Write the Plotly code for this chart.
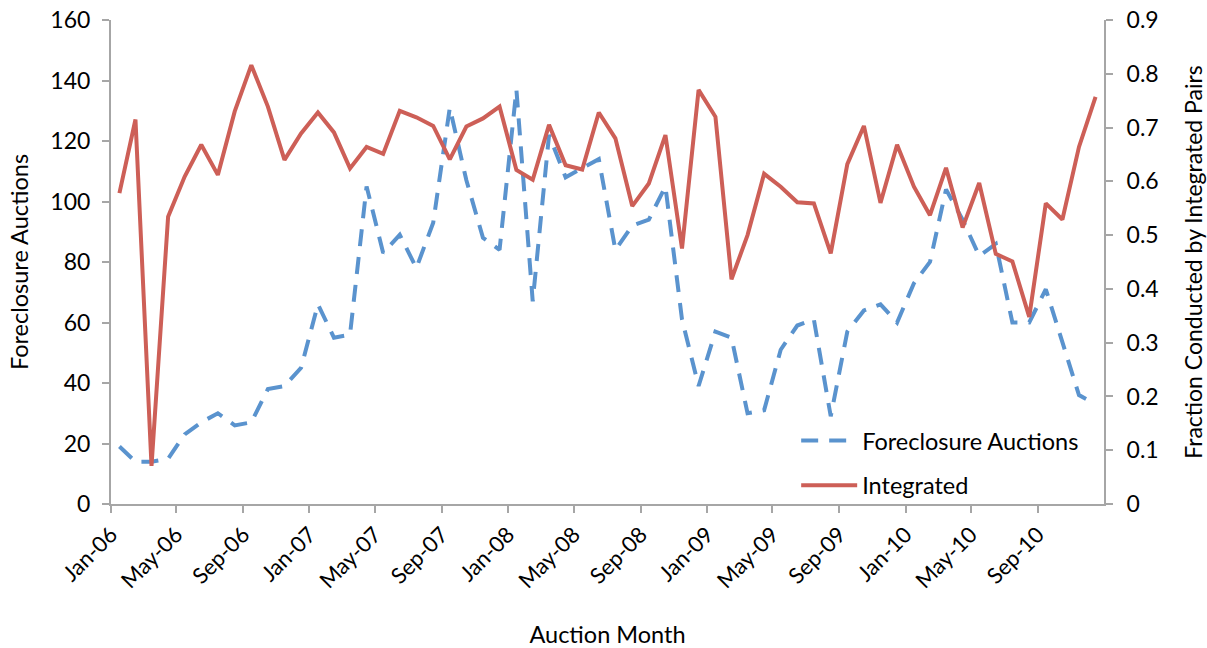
import pandas as pd
import plotly.graph_objects as go

months = pd.date_range("2006-01-01", periods=60, freq="MS")

foreclosure_auctions = [
    19, 14, 14, 15, 23, 27, 30, 26, 27, 38,
    39, 45, 66, 55, 56, 105, 83, 89, 78, 93,
    131, 107, 88, 84, 137, 67, 122, 108, 111, 114,
    84, 92, 94, 105, 61, 39, 57, 55, 30, 31,
    51, 59, 61, 29, 57, 64, 66, 60, 73, 80,
    104, 94, 82, 86, 60, 60, 71, 53, 36, 33,
]

integrated = [
    0.578, 0.715, 0.071, 0.534, 0.609, 0.668, 0.612, 0.730, 0.816, 0.739,
    0.640, 0.689, 0.728, 0.691, 0.624, 0.664, 0.651, 0.731, 0.719, 0.703,
    0.641, 0.702, 0.717, 0.739, 0.621, 0.603, 0.705, 0.630, 0.622, 0.728,
    0.680, 0.554, 0.596, 0.686, 0.475, 0.770, 0.720, 0.418, 0.500, 0.614,
    0.590, 0.561, 0.559, 0.466, 0.632, 0.703, 0.560, 0.668, 0.590, 0.537,
    0.625, 0.514, 0.597, 0.465, 0.451, 0.348, 0.559, 0.529, 0.664, 0.757,
]

tick_dates = pd.date_range("2006-01-01", "2010-09-01", freq="4MS")
tick_labels = [d.strftime("%b-%y") for d in tick_dates]

left_ticks = [0, 20, 40, 60, 80, 100, 120, 140, 160]
right_ticks = [0, 0.1, 0.2, 0.3, 0.4, 0.5, 0.6, 0.7, 0.8, 0.9]
right_labels = ["0", "0.1", "0.2", "0.3", "0.4", "0.5", "0.6", "0.7", "0.8", "0.9"]

BLUE = "#5A93CE"
RED = "#CD5F57"
AXIS = "#A6A6A6"
FONT = "Lato"
FS = 23

fig = go.Figure()
fig.add_trace(go.Scatter(
    x=months, y=foreclosure_auctions, name="Foreclosure Auctions",
    mode="lines", xperiod="M1", xperiodalignment="middle",
    line=dict(color=BLUE, width=4, dash="17px,11px"),
    legendgroup="a",
))
fig.add_trace(go.Scatter(
    x=months, y=integrated, name="Integrated", yaxis="y2",
    mode="lines", xperiod="M1", xperiodalignment="middle",
    line=dict(color=RED, width=4),
    legendgroup="b",
))

fig.update_layout(
    width=1207, height=648,
    margin=dict(l=111, r=103, t=20, b=144),
    paper_bgcolor="white", plot_bgcolor="white",
    font=dict(family=FONT, size=FS, color="#000000"),
    xaxis=dict(
        range=["2006-01-01", "2011-01-01"], automargin=False,
        tickmode="array", tickvals=tick_dates, ticktext=tick_labels,
        tickangle=-45, ticks="outside", ticklen=7, tickwidth=2, tickcolor=AXIS,
        showline=True, linecolor=AXIS, linewidth=2, showgrid=False, zeroline=False,
        title=dict(text="Auction Month", font=dict(size=23.5), standoff=36),
        tickfont=dict(size=22), ticklabeloverflow="allow",
    ),
    yaxis=dict(
        range=[0, 160], tickvals=left_ticks, automargin=False,
        ticks="outside", ticklen=7, tickwidth=2, tickcolor=AXIS,
        showline=True, linecolor=AXIS, linewidth=2, showgrid=False, zeroline=False,
        title=dict(text="Foreclosure Auctions", font=dict(size=23.5), standoff=15),
        tickfont=dict(size=FS), ticklabelstandoff=7, ticklabeloverflow="allow",
    ),
    yaxis2=dict(
        range=[0, 0.9], tickvals=right_ticks, ticktext=right_labels,
        overlaying="y", side="right", automargin=False,
        ticks="outside", ticklen=7, tickwidth=2, tickcolor=AXIS,
        showline=True, linecolor=AXIS, linewidth=2, showgrid=False, zeroline=False,
        title=dict(text="Fraction Conducted by Integrated Pairs", font=dict(size=23), standoff=30),
        tickfont=dict(size=FS), ticklabelstandoff=9, ticklabeloverflow="allow",
    ),
    legend=dict(
        x=0.690, y=0.176, xanchor="left", yanchor="top",
        bgcolor="rgba(0,0,0,0)", font=dict(size=23.5),
        tracegroupgap=11, itemwidth=56,
    ),
    showlegend=True,
)

fig.write_html(
    "out.html",
    config={"displayModeBar": False},
    post_script="document.body.style.margin='0';document.body.style.overflow='hidden';",
)
